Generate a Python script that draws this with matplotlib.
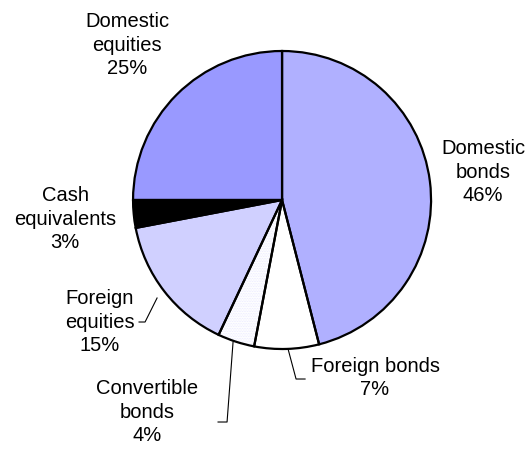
import matplotlib.pyplot as plt

plt.rcParams['font.family'] = ['Liberation Sans', 'DejaVu Sans']
plt.rcParams['hatch.linewidth'] = 0.4

labels = ['Domestic\nbonds', 'Foreign bonds', 'Convertible\nbonds',
          'Foreign\nequities', 'Cash\nequivalents', 'Domestic\nequities']
shares = [46, 7, 4, 15, 3, 25]
fills = ['white', 'white', 'white', 'white', 'black', '#9999ff']
hatches = ['+' * 33, None, '.' * 10, '|' * 30, None, None]
hatch_cols = ['#b0b0ff', 'white', '#e6e6ff', '#d0d0ff', 'black', '#9999ff']

fig = plt.figure(figsize=(5.3, 4.64), dpi=100)
ax = fig.add_axes([0, 0, 1, 1])

# fill layer (hatch takes the edge colour, so keep edges invisible here)
wedges, _ = ax.pie(shares, startangle=90, counterclock=False, radius=1.0,
                   colors=fills, wedgeprops=dict(linewidth=0))
for w, h, hc in zip(wedges, hatches, hatch_cols):
    w.set_edgecolor(hc)
    if h:
        w.set_hatch(h)

# black outlines on top
ax.pie(shares, startangle=90, counterclock=False, radius=1.0,
       colors=['none'] * len(shares),
       wedgeprops=dict(linewidth=1.6, edgecolor='black'))

ax.set_xlim(-1.893, 1.664)
ax.set_ylim(-1.765, 1.349)
ax.set_aspect('equal')
ax.axis('off')


def px(x, y):
    return ((x - 282) / 149.0, (201 - y) / 149.0)


fs = 14.5
label_pos = [(483, 172), (375, 378), (147, 412), (100, 322), (65, 219), (127, 45)]
for lab, s, (x, y) in zip(labels, shares, label_pos):
    ax.text(*px(x, y), lab + '\n' + str(s) + '%', ha='center', va='center',
            fontsize=fs, linespacing=1.28)

# leader lines for the small slices
leaders = [
    [(305, 380), (296, 380), (288, 350)],
    [(218, 423), (227, 423), (233, 343)],
    [(139, 323), (145, 323), (157, 299)],
]
for pts in leaders:
    xs, ys = zip(*[px(a, b) for a, b in pts])
    ax.plot(xs, ys, color='black', linewidth=0.8)

fig.savefig('out.png', dpi=100)
